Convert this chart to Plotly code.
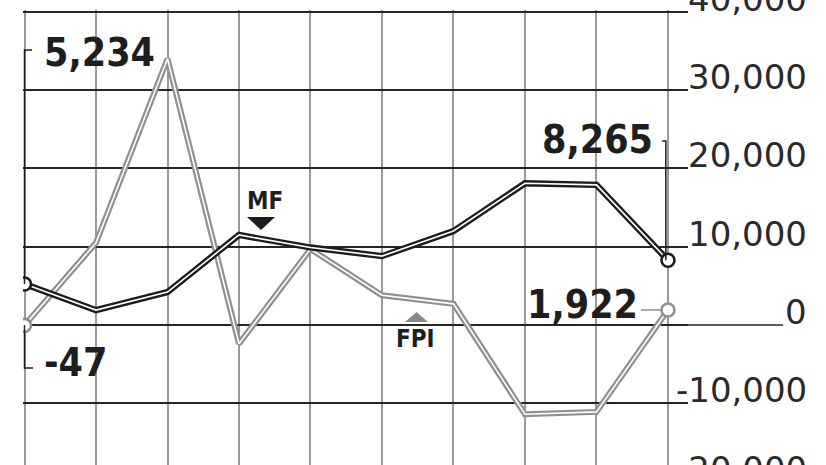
import plotly.graph_objects as go

# ---------------- data ----------------
periods = list(range(10))
mf_values = [5234, 1900, 4200, 11500, 9900, 8800, 12000, 18100, 17900, 8265]
fpi_values = [-47, 10500, 34000, -2400, 9700, 3800, 2700, -11400, -11100, 1922]
y_tickvals = [-20000, -10000, 0, 10000, 20000, 30000, 40000]
y_ticktext = ["-20,000", "-10,000", "0", "10,000", "20,000", "30,000", "40,000"]
start_labels = ["5,234", "-47"]
end_labels = ["8,265", "1,922"]
series_names = ["MF", "FPI"]

# ---------------- style ----------------
BLACK = "#1c1c1c"
GRAY = "#909090"
GRID_V = "#9a9a9a"
GRID_H = "#262626"
X_RANGE = [-0.021, 9.28]
Y_RANGE = [-17880, 40230]
NUM_FONT = dict(family="DejaVu Sans Condensed, DejaVu Sans", size=39, color="#1e1e1e")
TAG_FONT = dict(family="Liberation Sans Narrow, DejaVu Sans Condensed, DejaVu Sans", size=24, color="#1e1e1e")
AX_FONT = dict(family="DejaVu Sans", size=34, color="#2a2a2a")

fig = go.Figure()


def add_double_line(values, color, name, width):
    fig.add_trace(go.Scatter(x=periods, y=values, mode="lines", name=name,
                             line=dict(color=color, width=width), hoverinfo="skip"))
    fig.add_trace(go.Scatter(x=periods, y=values, mode="lines", name=name,
                             line=dict(color="white", width=1.6), hoverinfo="skip"))


add_double_line(fpi_values, GRAY, "FPI", 6)
add_double_line(mf_values, BLACK, "MF", 6.3)

# end-point markers
for vals, col in ((fpi_values, GRAY), (mf_values, BLACK)):
    fig.add_trace(go.Scatter(
        x=[periods[0], periods[-1]], y=[vals[0], vals[-1]], mode="markers",
        marker=dict(size=13, color="white", line=dict(color=col, width=2.6)),
        hoverinfo="skip"))

shapes = []
annotations = []

# extension of the zero grid line up to its label
shapes.append(dict(type="line", xref="paper", yref="y", x0=1, x1=1.143, y0=0, y1=0,
                   line=dict(color=GRID_H, width=1.5), layer="below"))

# right-hand axis labels (right aligned, baseline on the grid line)
for v, t in zip(y_tickvals, y_ticktext):
    in_range = Y_RANGE[0] <= v <= Y_RANGE[1]
    yref = "y" if in_range else "y domain"
    yv = v if in_range else (v - Y_RANGE[0]) / (Y_RANGE[1] - Y_RANGE[0])
    annotations.append(dict(x=1.1805, xref="paper", y=yv, yref=yref, text=t,
                            showarrow=False, xanchor="right", yanchor="bottom",
                            yshift=-8, borderpad=0, font=AX_FONT))

# start / end value labels with leader lines
lead = dict(color=BLACK, width=1.5)
# MF start
annotations.append(dict(x=0.245, y=34860, xref="x", yref="y", text="<b>%s</b>" % start_labels[0],
                        showarrow=False, xanchor="left", yanchor="middle", font=NUM_FONT))
shapes.append(dict(type="path", xref="x", yref="y",
                   path="M 0.105,35120 L 0,35120 L 0,%d" % mf_values[0], line=lead))
# FPI start
annotations.append(dict(x=0.245, y=-4850, xref="x", yref="y", text="<b>%s</b>" % start_labels[1],
                        showarrow=False, xanchor="left", yanchor="middle", font=NUM_FONT))
shapes.append(dict(type="path", xref="x", yref="y",
                   path="M 0.12,-5490 L 0,-5490 L 0,%d" % fpi_values[0], line=lead))
# MF end
annotations.append(dict(x=8.818, y=23750, xref="x", yref="y", text="<b>%s</b>" % end_labels[0],
                        showarrow=False, xanchor="right", yanchor="middle", font=NUM_FONT))
shapes.append(dict(type="path", xref="x", yref="y",
                   path="M 8.92,23500 L 8.97,23500 L 8.97,%d" % mf_values[-1], line=lead))
# FPI end
annotations.append(dict(x=8.608, y=2620, xref="x", yref="y", text="<b>%s</b>" % end_labels[1],
                        showarrow=False, xanchor="right", yanchor="middle", font=NUM_FONT))
shapes.append(dict(type="line", xref="x", yref="y", x0=8.62, x1=8.9,
                   y0=fpi_values[-1], y1=fpi_values[-1], line=dict(color=GRAY, width=1.5)))

# series tags with pointer triangles
annotations.append(dict(x=3.364, y=15840, xref="x", yref="y", text="<b>%s</b>" % series_names[0],
                        showarrow=False, xanchor="center", yanchor="middle", font=TAG_FONT))
shapes.append(dict(type="path", xref="x", yref="y",
                   path="M 3.112,13790 L 3.504,13790 L 3.308,12130 Z",
                   fillcolor=BLACK, line=dict(width=0)))
annotations.append(dict(x=5.462, y=-1790, xref="x", yref="y", text="<b>%s</b>" % series_names[1],
                        showarrow=False, xanchor="center", yanchor="middle", font=TAG_FONT))
shapes.append(dict(type="path", xref="x", yref="y",
                   path="M 5.322,383 L 5.644,383 L 5.483,1660 Z",
                   fillcolor="#888888", line=dict(width=0)))

fig.update_layout(
    width=826, height=465,
    margin=dict(l=23, r=138, t=10, b=0, pad=0),
    paper_bgcolor="white", plot_bgcolor="white",
    showlegend=False,
    shapes=shapes, annotations=annotations,
    xaxis=dict(range=X_RANGE, tickvals=periods, showticklabels=False, showgrid=True,
               gridcolor=GRID_V, gridwidth=1.6, zeroline=False, showline=False, ticks=""),
    yaxis=dict(range=Y_RANGE, tickvals=y_tickvals, showticklabels=False, showgrid=True,
               gridcolor=GRID_H, gridwidth=1.5, zeroline=False, showline=False, ticks="",
               side="right"),
)

fig.write_html("out.html", config={"displayModeBar": False},
               post_script="document.body.style.margin='0';document.body.style.overflow='hidden';")
